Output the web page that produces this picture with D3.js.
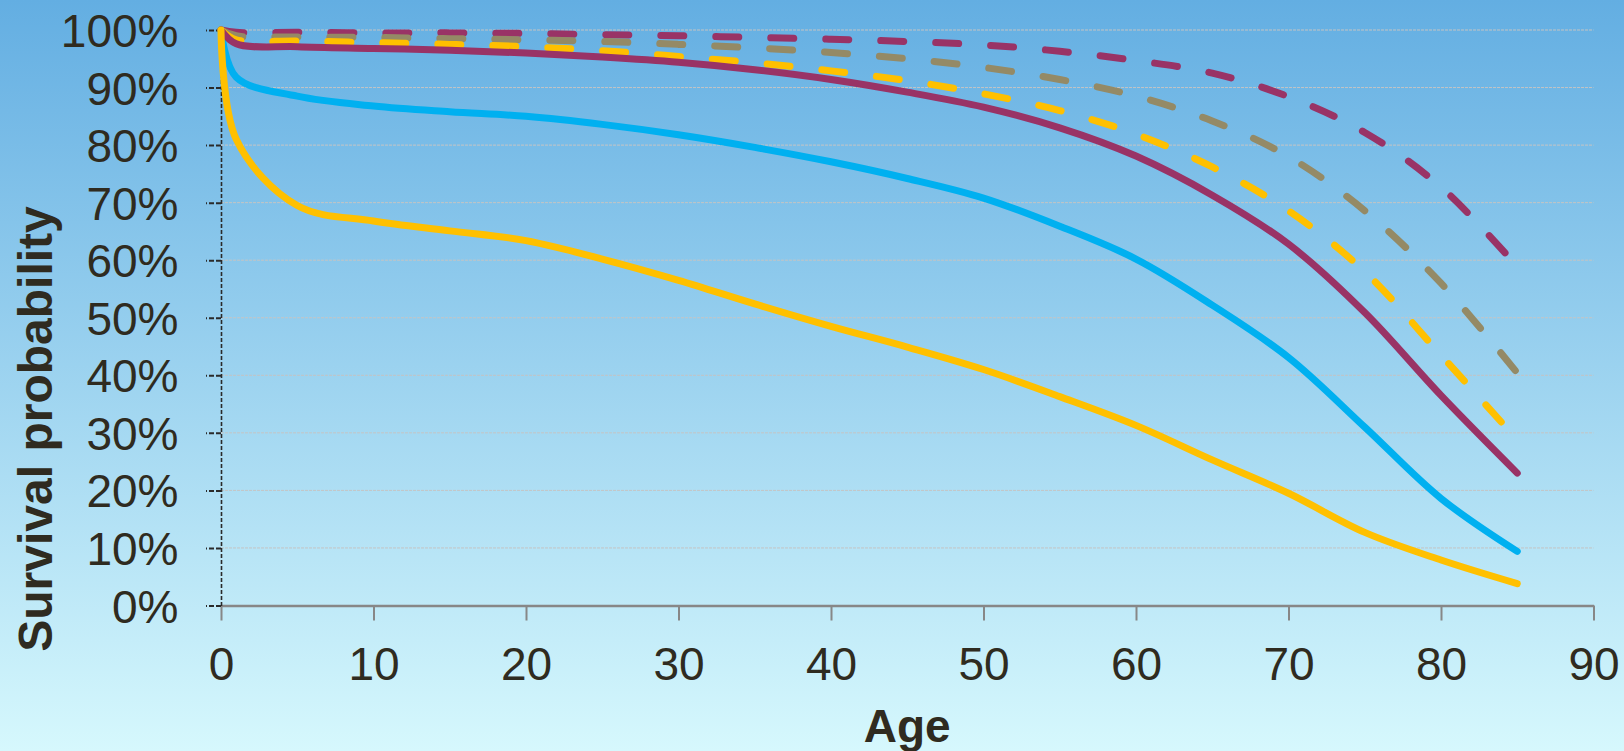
<!DOCTYPE html>
<html>
<head>
<meta charset="utf-8">
<script src="https://cdn.jsdelivr.net/npm/d3@7"></script>
<style>
  html, body { margin: 0; padding: 0; overflow: hidden; }
  body { width: 1624px; height: 751px; }
  text { font-family: "Liberation Sans", Arial, sans-serif; fill: #2f2b20; }
</style>
</head>
<body>
<svg id="chart" width="1624" height="751"></svg>
<script>
// ---- Data ----
const ages = [0, 1, 5, 10, 15, 20, 25, 30, 35, 40, 45, 50, 55, 60, 65, 70, 75, 80, 85];

const yellowSolid = [100, 81.0, 69.5, 66.8, 65.1, 63.4, 60.2, 56.5, 52.4, 48.5, 44.9, 41.0, 36.3, 31.3, 25.3, 19.5, 12.7, 7.9, 3.8];
const blueSolid   = [100, 91.8, 88.5, 86.8, 85.8, 85.0, 83.6, 81.8, 79.6, 77.1, 74.2, 70.8, 65.9, 60.2, 52.2, 43.1, 31.0, 18.6, 9.4];
const purpleSolid = [100, 97.6, 97.1, 96.8, 96.5, 96.0, 95.3, 94.4, 93.1, 91.4, 89.2, 86.6, 83.0, 78.1, 71.3, 62.8, 50.9, 36.5, 23.0];
const yellowDash  = [100, 98.3, 98.1, 97.8, 97.5, 97.1, 96.4, 95.4, 94.3, 92.9, 91.2, 88.9, 86.0, 81.9, 76.2, 68.6, 58.0, 43.5, 28.8];
const oliveDash   = [100, 99.0, 98.8, 98.7, 98.5, 98.3, 98.0, 97.5, 96.9, 96.1, 95.0, 93.5, 91.4, 88.5, 84.2, 78.0, 68.6, 56.0, 40.4];
const purpleDash  = [100, 99.6, 99.6, 99.5, 99.5, 99.4, 99.2, 99.0, 98.7, 98.4, 98.0, 97.4, 96.3, 94.7, 92.5, 88.4, 82.2, 72.7, 58.9];

const xTicks = [0, 10, 20, 30, 40, 50, 60, 70, 80, 90];
const yTicks = [0, 10, 20, 30, 40, 50, 60, 70, 80, 90, 100];
const xTitle = "Age";
const yTitle = "Survival probability";

// ---- Series styling ----
const seriesList = [
  { values: purpleDash,  color: "#993366", dashed: true },
  { values: oliveDash,   color: "#948A66", dashed: true },
  { values: yellowDash,  color: "#FFC000", dashed: true },
  { values: blueSolid,   color: "#00B0F0", dashed: false },
  { values: purpleSolid, color: "#993366", dashed: false },
  { values: yellowSolid, color: "#FFC000", dashed: false }
];

const svg = d3.select("#chart");

// Background gradient
const defs = svg.append("defs");
const grad = defs.append("linearGradient").attr("id", "bg")
  .attr("x1", 0).attr("y1", 0).attr("x2", 0).attr("y2", 1);
grad.append("stop").attr("offset", "0%").attr("stop-color", "#63AEE2");
grad.append("stop").attr("offset", "100%").attr("stop-color", "#D6F8FD");
svg.append("rect").attr("width", 1624).attr("height", 751).attr("fill", "url(#bg)");

const pLeft = 221, pRight = 1593.5, pTop = 30, pBottom = 605.5;
const x = d3.scaleLinear().domain([0, 90]).range([pLeft, pRight]);
const y = d3.scaleLinear().domain([0, 100]).range([pBottom, pTop]);

// Gridlines
svg.append("g").selectAll("line").data(yTicks.filter(d => d > 0)).join("line")
  .attr("x1", pLeft).attr("x2", pRight)
  .attr("y1", d => y(d)).attr("y2", d => y(d))
  .attr("stroke", "#c4c4c4").attr("stroke-width", 1)
  .attr("stroke-dasharray", "3,1");

// X axis
const xAxis = svg.append("g").attr("transform", `translate(0,${pBottom})`)
  .call(d3.axisBottom(x).tickValues(xTicks).tickSize(15).tickSizeOuter(0).tickFormat(d3.format("d")));
xAxis.select(".domain").attr("stroke", "#878787").attr("stroke-width", 2.5);
xAxis.selectAll(".tick line").attr("stroke", "#878787").attr("stroke-width", 2);
xAxis.selectAll(".tick text")
  .attr("y", 74).attr("dy", null)
  .style("font-size", "46px").style("font-family", "'Liberation Sans', Arial, sans-serif")
  .attr("fill", "#2f2b20");

// Y axis
const yAxis = svg.append("g").attr("transform", `translate(${pLeft},0)`)
  .call(d3.axisLeft(y).tickValues(yTicks).tickSize(15).tickSizeOuter(0).tickFormat(d => d + "%"));
yAxis.select(".domain").attr("stroke", "#2a2a2a").attr("stroke-width", 1.6).attr("stroke-dasharray", "4,2");
yAxis.selectAll(".tick line").attr("stroke", "#2a2a2a").attr("stroke-width", 2).attr("stroke-dasharray", "5,2");
yAxis.selectAll(".tick text")
  .attr("x", -42.5).attr("dy", "0.36em")
  .style("font-size", "46px").style("font-family", "'Liberation Sans', Arial, sans-serif")
  .attr("fill", "#2f2b20");

// Lines
const line = d3.line()
  .x(d => x(d[0]))
  .y(d => y(d[1]))
  .curve(d3.curveCatmullRom.alpha(0.5));

svg.append("g").selectAll("path").data(seriesList).join("path")
  .attr("d", s => line(ages.map((a, i) => [a, s.values[i]])))
  .attr("fill", "none")
  .attr("stroke", s => s.color)
  .attr("stroke-width", 7)
  .attr("stroke-linecap", "round")
  .attr("stroke-linejoin", "round")
  .attr("stroke-dasharray", s => s.dashed ? "23,32" : null);

// Axis titles
svg.append("text")
  .attr("x", (pLeft + pRight) / 2).attr("y", 741.5)
  .attr("text-anchor", "middle")
  .style("font-size", "46px").style("font-weight", "bold")
  .text(xTitle);

svg.append("text")
  .attr("transform", "translate(52,429) rotate(-90)")
  .attr("text-anchor", "middle")
  .style("font-size", "48px").style("font-weight", "bold")
  .text(yTitle);
</script>
</body>
</html>
